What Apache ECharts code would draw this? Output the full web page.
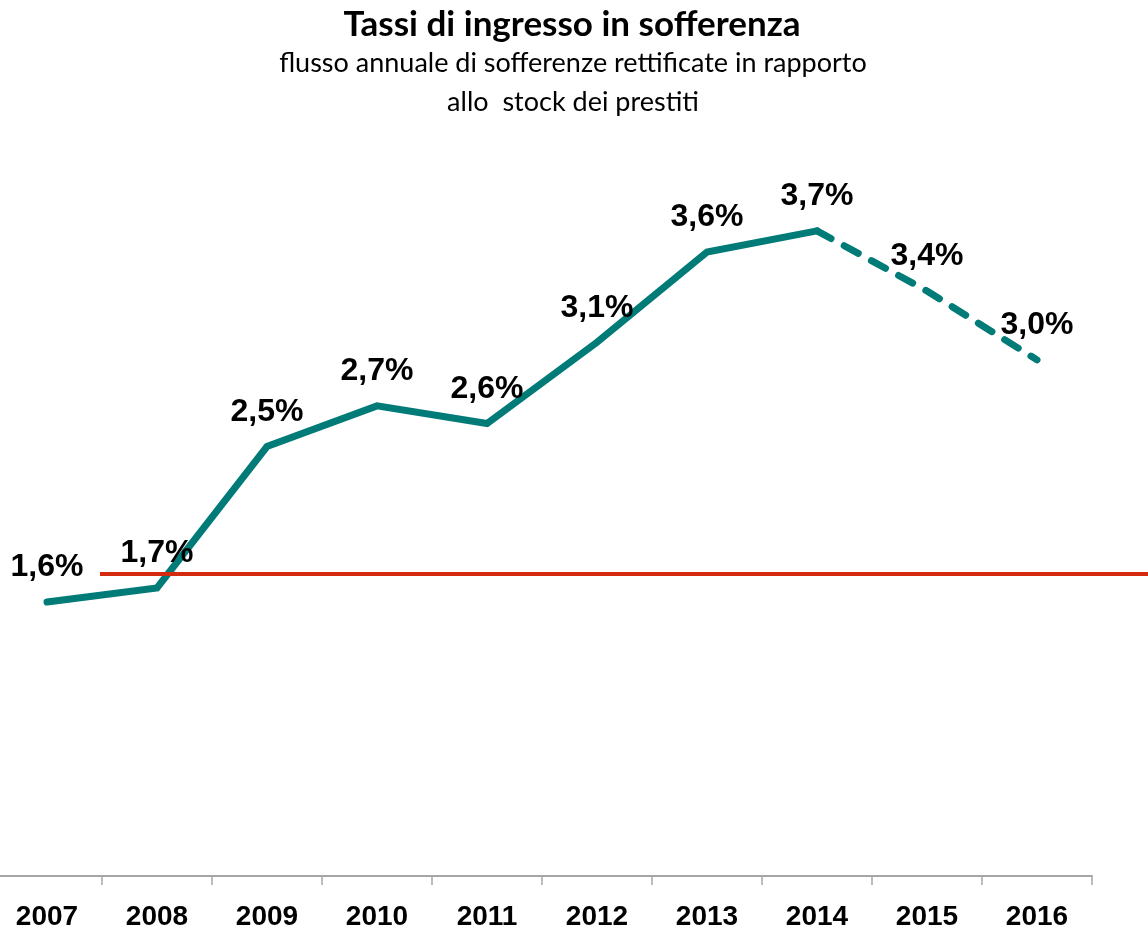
<!DOCTYPE html>
<html>
<head>
<meta charset="utf-8">
<script src="https://cdn.jsdelivr.net/npm/echarts@6/dist/echarts.min.js"></script>
<style>
  html, body { margin: 0; padding: 0; background: #fff; overflow: hidden; }
  /* il primo confine di categoria cade appena fuori dal bordo sinistro */
  #chart { width: 1156px; height: 931px; margin-left: -8px; }
</style>
</head>
<body>
<div id="chart"></div>
<script>
// anni
const years = ['2007','2008','2009','2010','2011','2012','2013','2014','2015','2016']
// tasso di ingresso in sofferenza (%), dato consuntivo
const actualRate = [1.60, 1.68, 2.48, 2.71, 2.61, 3.07, 3.58, 3.70, null, null]
// previsioni (tratteggiato)
const forecastRate = [null, null, null, null, null, null, null, 3.70, 3.36, 2.97]
// livello di riferimento (linea rossa)
const refLevel = 1.76

const teal = '#007B78'
const red = '#D42A10'

const chart = echarts.init(document.getElementById('chart'))

const fmt = v => v.toFixed(1).replace('.', ',') + '%'

const labelStyle = {
  show: true,
  position: 'top',
  distance: 18,
  color: '#000',
  fontFamily: 'Liberation Sans, Arial, sans-serif',
  fontWeight: 'bold',
  fontSize: 32
}

chart.setOption({
  animation: false,
  title: [
    {
      text: 'Tassi di ingresso in sofferenza',
      left: 575,
      textAlign: 'center',
      top: 2,
      textStyle: { fontFamily: 'Lato, sans-serif', fontWeight: 'bold', fontSize: 35, color: '#000' }
    },
    {
      text: 'flusso annuale di sofferenze rettificate in rapporto\nallo  stock dei prestiti',
      left: 576,
      textAlign: 'center',
      top: 39,
      textStyle: { fontFamily: 'Lato, sans-serif', fontWeight: 'normal', fontSize: 27, color: '#000', lineHeight: 39, align: 'center' }
    }
  ],
  grid: { left: 0, right: 56, top: 169, bottom: 54 },
  xAxis: {
    type: 'category',
    data: years,
    boundaryGap: true,
    axisLine: { lineStyle: { color: '#A6A6A6', width: 2 } },
    axisTick: { show: true, length: 9, lineStyle: { color: '#A6A6A6', width: 1.5 } },
    axisLabel: {
      margin: 27,
      color: '#000',
      fontFamily: 'Liberation Sans, Arial, sans-serif',
      fontWeight: 'bold',
      fontSize: 28
    }
  },
  yAxis: {
    type: 'value',
    min: 0.05,
    max: 4.05,
    show: false,
    splitLine: { show: false }
  },
  series: [
    {
      type: 'line',
      data: actualRate,
      symbol: 'circle',
      symbolSize: 1,
      showSymbol: true,
      itemStyle: { color: 'rgba(0,0,0,0)' },
      lineStyle: { color: teal, width: 7, cap: 'round', join: 'miter' },
      label: Object.assign({}, labelStyle, { formatter: p => fmt(p.value) }),
      markLine: {
        silent: true,
        symbol: 'none',
        label: { show: false },
        lineStyle: { color: red, width: 4, type: 'solid' },
        data: [[
          { xAxis: '2007', yAxis: refLevel, x: 108 },
          { xAxis: '2016', yAxis: refLevel, x: 1156 }
        ]]
      },
      z: 3
    },
    {
      type: 'line',
      data: forecastRate,
      symbol: 'circle',
      symbolSize: 1,
      showSymbol: true,
      itemStyle: { color: 'rgba(0,0,0,0)' },
      lineStyle: { color: teal, width: 7, type: [16, 15], cap: 'round' },
      label: Object.assign({}, labelStyle, {
        formatter: p => (p.dataIndex === 7 ? '' : fmt(p.value))
      }),
      z: 3
    }
  ]
})
</script>
</body>
</html>
